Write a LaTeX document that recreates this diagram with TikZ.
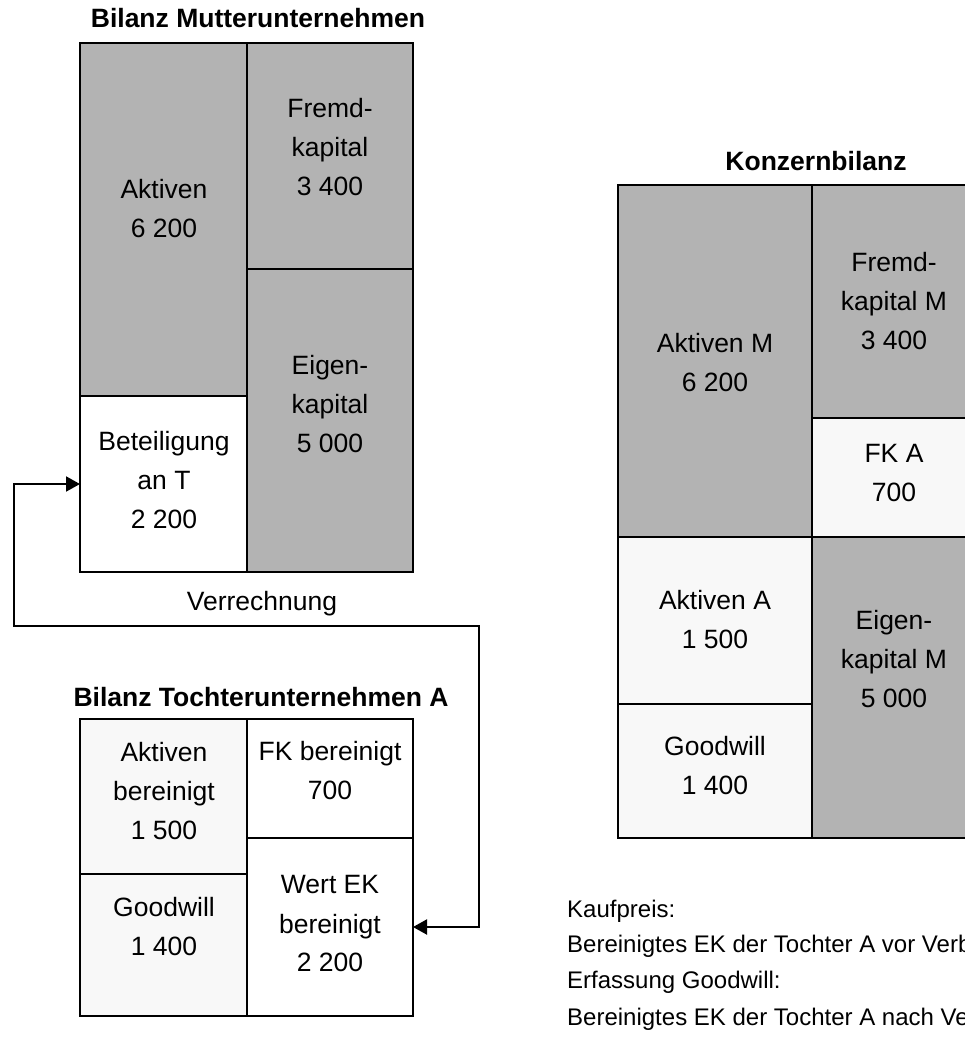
\documentclass[tikz,border=0pt]{standalone}
\usepackage{fontspec}
\setmainfont{Liberation Sans}
\usetikzlibrary{arrows.meta}
\definecolor{cellgray}{HTML}{B3B3B3}
\definecolor{celllight}{HTML}{F8F8F8}
\begin{document}
\begin{tikzpicture}[x=1pt,y=-1pt,
  cell/.style={draw=black, line width=2.2pt, rectangle, inner sep=0pt, outer sep=0pt},
  darkcell/.style={cell, fill=cellgray},
  lightcell/.style={cell, fill=celllight},
  whitecell/.style={cell, fill=white},
  txt/.style={align=center, font=\fontsize{26.5}{39}\selectfont, inner sep=0pt},
  ttl/.style={font=\fontsize{26.5}{39}\selectfont\bfseries, inner sep=0pt},
  note/.style={anchor=base west, font=\fontsize{24}{36}\selectfont, inner sep=0pt},
  link/.style={line width=2pt, {Triangle[length=14pt,width=15pt]}-{Triangle[length=14pt,width=15pt]}}]
\useasboundingbox (0,0) rectangle (965,1053);

% Bilanz Mutterunternehmen
\node[ttl] (mt) at (258,18) {Bilanz Mutterunternehmen};
\node[darkcell, minimum width=167pt, minimum height=353pt] (mA) at (163.5,219.5) {};
\node[whitecell, minimum width=167pt, minimum height=176pt] (mB) at (163.5,484) {};
\node[darkcell, minimum width=166pt, minimum height=226pt] (mF) at (330,156) {};
\node[darkcell, minimum width=166pt, minimum height=303pt] (mE) at (330,420.5) {};
\node[txt] (mAt) at (164,209) {Aktiven\\6 200};
\node[txt] (mFt) at (330,147) {Fremd-\\kapital\\3 400};
\node[txt] (mEt) at (330,404) {Eigen-\\kapital\\5 000};
\node[txt] (mBt) at (164,480) {Beteiligung\\an T\\2 200};

% Bilanz Tochterunternehmen A
\node[ttl] (tt) at (261,697) {Bilanz Tochterunternehmen A};
\node[lightcell, minimum width=167pt, minimum height=155pt] (tA) at (163.5,796.5) {};
\node[lightcell, minimum width=167pt, minimum height=142pt] (tG) at (163.5,945) {};
\node[whitecell, minimum width=166pt, minimum height=119pt] (tF) at (330,778.5) {};
\node[whitecell, minimum width=166pt, minimum height=178pt] (tW) at (330,927) {};
\node[txt] (tAt) at (164,791) {Aktiven\\bereinigt\\1 500};
\node[txt] (tFt) at (330,771) {FK bereinigt\\700};
\node[txt] (tGt) at (164,927) {Goodwill\\1 400};
\node[txt] (tWt) at (330,924) {Wert EK\\bereinigt\\2 200};

% Verrechnung of the participation against the adjusted equity
\coordinate (r1) at (479,626);
\coordinate (r2) at (14,626);
\draw[link] (tW.east) -| (r1) -- (r2) |- (mB.west);
\node[txt] (vr) at (262,604) {Verrechnung};

% Konzernbilanz
\node[ttl] (kt) at (816,161) {Konzernbilanz};
\node[darkcell, minimum width=194pt, minimum height=352pt] (kAM) at (715,361) {};
\node[lightcell, minimum width=194pt, minimum height=167pt] (kAA) at (715,620.5) {};
\node[lightcell, minimum width=194pt, minimum height=134pt] (kG) at (715,771) {};
\node[darkcell, minimum width=164pt, minimum height=233pt] (kF) at (894,301.5) {};
\node[lightcell, minimum width=164pt, minimum height=119pt] (kFA) at (894,477.5) {};
\node[darkcell, minimum width=164pt, minimum height=301pt] (kE) at (894,687.5) {};
\node[txt] (kAMt) at (715,363) {Aktiven M\\6 200};
\node[txt] (kFt) at (894,301) {Fremd-\\kapital M\\3 400};
\node[txt] (kFAt) at (894,473) {FK A\\700};
\node[txt] (kAAt) at (715,620) {Aktiven A\\1 500};
\node[txt] (kEt) at (894,659) {Eigen-\\kapital M\\5 000};
\node[txt] (kGt) at (715,766) {Goodwill\\1 400};

% Notes
\node[note] (n1) at (567,917) {Kaufpreis:};
\node[note] (n2) at (567,952) {Bereinigtes EK der Tochter A vor Verb};
\node[note] (n3) at (567,988) {Erfassung Goodwill:};
\node[note] (n4) at (567,1025) {Bereinigtes EK der Tochter A nach Ve};
\end{tikzpicture}
\end{document}
